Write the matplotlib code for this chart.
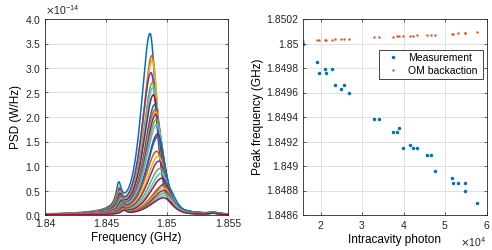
"""PSD spectra (left) and peak frequency vs intracavity photon number (right)."""
import matplotlib
matplotlib.use("Agg")
import matplotlib.pyplot as plt
import numpy as np
from matplotlib.ticker import FuncFormatter, ScalarFormatter

plt.rcParams["font.family"] = ["Liberation Sans", "DejaVu Sans"]

MATLAB_COLORS = ["#0072BD", "#D95319", "#EDB120", "#7E2F8E", "#77AC30", "#4DBEEE", "#A2142F"]

# right panel (x in photons, y in GHz)
photon = [1.567e4, 1.912e4, 1.968e4, 2.096e4, 2.128e4, 2.280e4, 2.337e4, 2.497e4,
          2.569e4, 2.689e4, 3.290e4, 3.410e4, 3.739e4, 3.851e4, 3.899e4, 3.995e4,
          4.163e4, 4.220e4, 4.332e4, 4.572e4, 4.652e4, 4.748e4, 5.157e4, 5.197e4,
          5.317e4, 5.478e4, 5.470e4, 5.760e4]
peak_meas = [1.85000, 1.84985, 1.84976, 1.84979, 1.84976, 1.84979, 1.84966, 1.84963,
             1.84966, 1.84960, 1.84938, 1.84938, 1.84928, 1.84928, 1.84931, 1.84915,
             1.84917, 1.84915, 1.84915, 1.84909, 1.84909, 1.84896, 1.84890, 1.84886,
             1.84886, 1.84886, 1.84880, 1.84870]
peak_om = [1.850020, 1.850026, 1.850027, 1.850029, 1.850030, 1.850032, 1.850033, 1.850036,
           1.850037, 1.850039, 1.850049, 1.850051, 1.850056, 1.850058, 1.850059, 1.850061,
           1.850063, 1.850064, 1.850066, 1.850070, 1.850072, 1.850073, 1.850080, 1.850081,
           1.850083, 1.850085, 1.850085, 1.850090]

# left panel: per-spectrum line parameters (GHz, x1e-14 W/Hz)
main_freq = [1.84862, 1.84878, 1.84880, 1.84870, 1.84882, 1.84886, 1.84890, 1.84900,
             1.84904, 1.84908, 1.84910, 1.84914, 1.84918, 1.84924, 1.84926, 1.84917,
             1.84930, 1.84936, 1.84945, 1.84955, 1.84960, 1.84990, 1.84970, 1.84975,
             1.84978, 1.84982, 1.84985, 1.84975]
main_height = [3.70, 3.25, 3.15, 2.90, 2.70, 2.60, 2.45, 2.25, 2.15, 2.10, 2.05, 1.95, 1.85, 1.65,
               1.60, 1.30, 1.20, 1.10, 0.95, 0.85, 0.75, 0.65, 0.60, 0.55, 0.50, 0.45, 0.40, 0.35]
width_left = [0.00086, 0.00088, 0.00090, 0.00091, 0.00093, 0.00094, 0.00096, 0.00097, 0.00099,
              0.00100, 0.00102, 0.00103, 0.00105, 0.00106, 0.00108, 0.00110, 0.00112, 0.00114,
              0.00116, 0.00118, 0.00120, 0.00122, 0.00123, 0.00124, 0.00125, 0.00126, 0.00128, 0.00130]
width_right = [0.00060, 0.00061, 0.00062, 0.00063, 0.00064, 0.00065, 0.00066, 0.00067, 0.00068,
               0.00069, 0.00070, 0.00071, 0.00072, 0.00073, 0.00074, 0.00075, 0.00076, 0.00077,
               0.00078, 0.00079, 0.00080, 0.00080, 0.00081, 0.00081, 0.00082, 0.00082, 0.00083, 0.00083]
side_freq = [1.84605, 1.84607, 1.84609, 1.84611, 1.84612, 1.84614, 1.84615, 1.84617, 1.84618,
             1.84620, 1.84621, 1.84623, 1.84624, 1.84626, 1.84627, 1.84629, 1.84630, 1.84632,
             1.84633, 1.84635, 1.84636, 1.84638, 1.84639, 1.84641, 1.84642, 1.84644, 1.84645, 1.84647]
side_height = [0.45, 0.38, 0.36, 0.34, 0.32, 0.30, 0.28, 0.26, 0.25, 0.24, 0.23, 0.22, 0.21, 0.19,
               0.18, 0.16, 0.15, 0.14, 0.13, 0.12, 0.11, 0.10, 0.09, 0.09, 0.08, 0.08, 0.07, 0.07]
side_width = 0.00026
far_freq = 1.8538
far_height = 0.03
lorentz_frac = 0.6

freq = np.linspace(1.84, 1.855, 1500)


def voigt_like(f, f0, h, wl, wr, eta=lorentz_frac):
    w = np.where(f < f0, wl, wr)
    x = (f - f0) / w
    return h * (eta / (1 + x ** 2) + (1 - eta) * np.exp(-np.log(2) * x ** 2))


def lorentz(f, f0, h, w):
    return h / (1 + ((f - f0) / w) ** 2)


fig = plt.figure(figsize=(4.92, 2.5), dpi=100)
ax1 = fig.add_axes([0.0915, 0.14, 0.3715, 0.784])
ax2 = fig.add_axes([0.615, 0.14, 0.374, 0.784])

# --- left: spectra
for i in range(len(main_height)):
    psd = (voigt_like(freq, main_freq[i], main_height[i], width_left[i], width_right[i])
           + lorentz(freq, side_freq[i], side_height[i], side_width)
           + lorentz(freq, far_freq, far_height, 0.0004))
    ax1.plot(freq, psd * 1e-14, color=MATLAB_COLORS[i % 7], lw=1.1)

ax1.set_xlim(1.84, 1.855)
ax1.set_ylim(0, 4e-14)
ax1.set_xticks([1.84, 1.845, 1.85, 1.855])
ax1.xaxis.set_major_formatter(FuncFormatter(lambda v, p: f"{v:.5g}"))
fmt = ScalarFormatter(useMathText=True)
fmt.set_powerlimits((0, 0))
ax1.yaxis.set_major_formatter(fmt)
ax1.set_xlabel("Frequency (GHz)", fontsize=8.5, labelpad=2)
ax1.set_ylabel("PSD (W/Hz)", fontsize=8.5, labelpad=2)

# --- right: peak frequency
ax2.plot(photon, peak_meas, ".", color=MATLAB_COLORS[0], ms=3, label="Measurement")
ax2.plot(photon, peak_om, ".", color=MATLAB_COLORS[1], ms=1.4, label="OM backaction")
ax2.set_xlim(1.567e4, 6e4)
ax2.set_ylim(1.8486, 1.8502)
ax2.set_xticks([2e4, 3e4, 4e4, 5e4, 6e4])
ax2.set_yticks(np.arange(1.8486, 1.85021, 0.0002))
ax2.yaxis.set_major_formatter(FuncFormatter(lambda v, p: f"{v:.5g}"))
fmt2 = ScalarFormatter(useMathText=True)
fmt2.set_powerlimits((0, 0))
ax2.xaxis.set_major_formatter(fmt2)
ax2.set_xlabel("Intracavity photon", fontsize=8.5, labelpad=2)
ax2.set_ylabel("Peak frequency (GHz)", fontsize=8.5, labelpad=2)
leg = ax2.legend(loc="upper left", bbox_to_anchor=(0.416, 0.5, 0.566, 0.342), mode="expand",
                 borderaxespad=0, fontsize=7.5, frameon=True, fancybox=False,
                 edgecolor="#262626", framealpha=1, handletextpad=0.5, borderpad=0.3,
                 labelspacing=0.25, handlelength=2.0)
leg.get_frame().set_linewidth(0.6)

for ax in (ax1, ax2):
    ax.grid(True, color="#dcdcdc", lw=0.6)
    ax.set_axisbelow(True)
    ax.tick_params(direction="in", length=2.5, width=0.5, labelsize=7.5, colors="#262626",
                   top=True, right=True, pad=3)
    for s in ax.spines.values():
        s.set_color("#262626")
        s.set_linewidth(0.6)
    ax.yaxis.get_offset_text().set_fontsize(7.5)
    ax.xaxis.get_offset_text().set_fontsize(7.5)

fig.savefig("out.png", dpi=100)
